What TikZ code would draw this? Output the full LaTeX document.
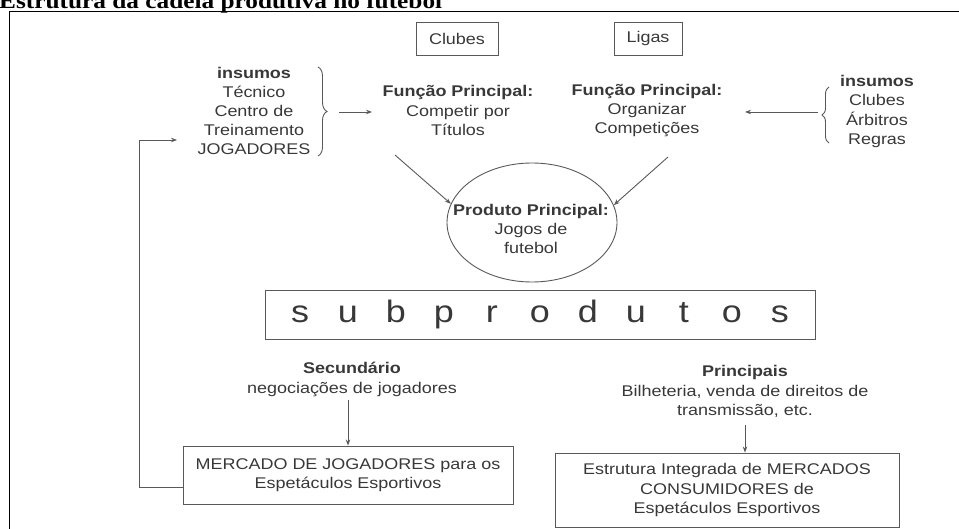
\documentclass[tikz,border=0pt]{standalone}
\usepackage{fontspec}
\setmainfont{Liberation Sans}[FakeStretch=1.16]
\newfontfamily\titlefont{Liberation Serif}[FakeStretch=1.15]
\usetikzlibrary{shapes.geometric,arrows.meta,decorations.pathreplacing}
\definecolor{txtgray}{gray}{0.22}
\definecolor{lngray}{gray}{0.35}
\tikzset{
  txt/.style={align=center,inner sep=0pt,text=txtgray,font=\fontsize{15.5}{19.2}\selectfont},
  boxed/.style={txt,draw=lngray,line width=0.9pt},
  arr/.style={draw=lngray,line width=0.9pt,-{Stealth[length=6pt,width=4.5pt]}},
  ln/.style={draw=lngray,line width=0.9pt},
  brc/.style={draw=lngray,line width=0.9pt,decorate},
}
\begin{document}
\begin{tikzpicture}[x=1pt,y=-1pt]
\useasboundingbox (0,0) rectangle (959,529);
% title (cut at top)
\node[anchor=base west,inner sep=0pt,font=\titlefont\bfseries\fontsize{22}{22}\selectfont] (title) at (-1,9) {Estrutura da cadeia produtiva no futebol};
% outer frame
\coordinate (frTL) at (9,12);
\coordinate (frTR) at (962,12);
\coordinate (frBL) at (9,532);
\draw[line width=1pt] (frBL) -- (frTL) -- (frTR);
% top boxes
\node[boxed,minimum width=82,minimum height=33] (clubes) at (457,38.5) {Clubes};
\node[boxed,minimum width=68,minimum height=33] (ligas) at (648,38.5) {Ligas};
% left inputs
\node[txt] (insL) at (254,111) {\textbf{insumos}\\Técnico\\Centro de\\Treinamento\\JOGADORES};
\coordinate (bLt) at (318,67);
\coordinate (bLb) at (318,156);
\draw[brc,decoration={brace,amplitude=9pt}] (bLt) -- (bLb);
\coordinate (aL1) at (339,112);
\coordinate (aL2) at (372,112);
\draw[arr] (aL1) -- (aL2);
% functions
\node[txt] (fnC) at (458,110.5) {\textbf{Função Principal:}\\Competir por\\Títulos};
\node[txt] (fnL) at (647,110.5) {\textbf{Função Principal:}\\Organizar\\Competições};
% right inputs
\node[txt] (insR) at (877,111.5) {\textbf{insumos}\\Clubes\\Árbitros\\Regras};
\coordinate (bRb) at (829,143);
\coordinate (bRt) at (829,87);
\draw[brc,decoration={brace,amplitude=7pt}] (bRb) -- (bRt);
\coordinate (aR1) at (818,112);
\coordinate (aR2) at (745,112);
\draw[arr] (aR1) -- (aR2);
% product ellipse
\node[ellipse,draw=lngray,line width=0.9pt,minimum width=170,minimum height=119,inner sep=0pt] (prod) at (532,222.5) {};
\node[txt] (prodtxt) at (531,229) {\textbf{Produto Principal:}\\Jogos de\\futebol};
\coordinate (cA) at (395,155);
\coordinate (cB) at (668,157);
\draw[arr] (cA) -- (prod.167);
\draw[arr] (cB) -- (prod.12);
% subprodutos
\node[draw=lngray,line width=0.9pt,minimum width=550,minimum height=49,inner sep=0pt,text=txtgray,font=\fontsize{31}{31}\selectfont] (sub) at (540,314.5)
 {\makebox[48pt]{s}\makebox[48pt]{u}\makebox[48pt]{b}\makebox[48pt]{p}\makebox[48pt]{r}\makebox[48pt]{o}\makebox[48pt]{d}\makebox[48pt]{u}\makebox[48pt]{t}\makebox[48pt]{o}\makebox[48pt]{s}};
% secondary
\node[txt] (sec) at (352,379.5) {\textbf{Secundário}\\negociações de jogadores};
\node[boxed,minimum width=330,minimum height=58] (merc) at (348,475) {MERCADO DE JOGADORES para os\\Espetáculos Esportivos};
\draw[arr] (sec.south -| merc.north) ++(0,3) -- (merc.north);
\coordinate (fbC) at (139,140);
\coordinate (fbE) at (177,140);
\draw[arr] ([yshift=-12pt]merc.west) -| (fbC) -- (fbE);
% principal
\node[txt] (prin) at (745,391.5) {\textbf{Principais}\\Bilheteria, venda de direitos de\\transmissão, etc.};
\node[boxed,minimum width=344,minimum height=74] (estr) at (727,490) {Estrutura Integrada de MERCADOS\\CONSUMIDORES de\\Espetáculos Esportivos};
\draw[arr] ([yshift=-7pt]prin.south) -- (prin.south |- estr.north);
\end{tikzpicture}
\end{document}
